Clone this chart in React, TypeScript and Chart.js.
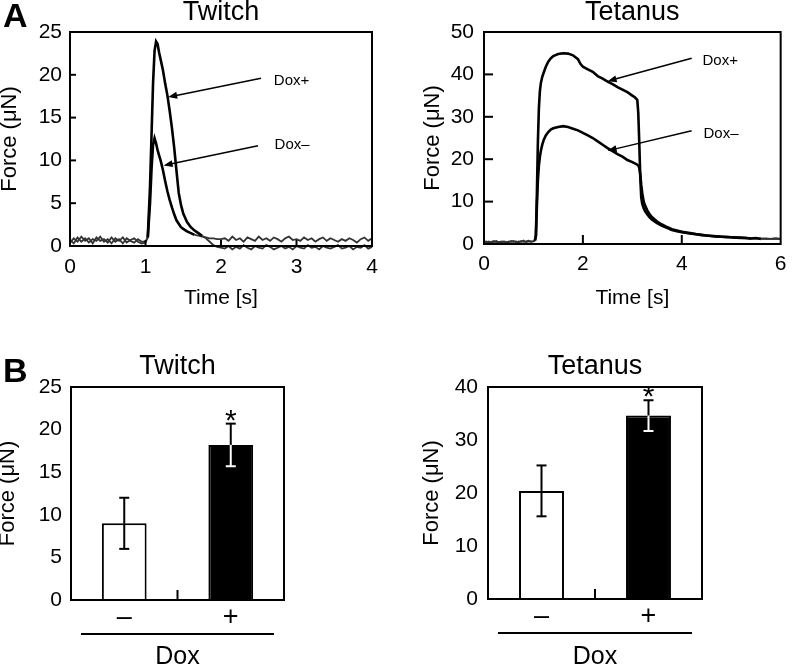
import React, { useEffect, useRef } from 'react';
import { Chart, registerables } from 'chart.js';

Chart.register(...registerables);

const FONT = "'Liberation Sans', Arial, Helvetica, sans-serif";
Chart.defaults.font.family = FONT;
Chart.defaults.color = '#000';

// ---------- Panel A: Twitch trace ----------
const twitchTime = [
  0, 0.05, 0.1, 0.15, 0.2, 0.25, 0.3, 0.35, 0.4, 0.45, 0.5, 0.55, 0.6, 0.65, 0.7, 0.75, 0.8, 0.85, 0.9, 0.95, 1.0,
  1.03, 1.06, 1.08, 1.1, 1.12, 1.14, 1.16, 1.18, 1.2, 1.23, 1.26, 1.29, 1.32, 1.35, 1.38, 1.41, 1.44, 1.47, 1.5,
  1.55, 1.6, 1.65, 1.7, 1.75, 1.8, 1.85, 1.9, 1.95, 2.0,
  2.05, 2.1, 2.15, 2.2, 2.25, 2.3, 2.35, 2.4, 2.45, 2.5, 2.55, 2.6, 2.65, 2.7, 2.75, 2.8, 2.85, 2.9, 2.95, 3.0,
  3.05, 3.1, 3.15, 3.2, 3.25, 3.3, 3.35, 3.4, 3.45, 3.5, 3.55, 3.6, 3.65, 3.7, 3.75, 3.8, 3.85, 3.9, 3.95, 4.0,
];
const twitchDoxPlus = [
  0.7, 0.3, 1.0, 0.5, 0.9, 0.4, 0.8, 0.6, 1.1, 0.5, 0.8, 0.3, 0.9, 0.6, 1.0, 0.4, 0.7, 0.9, 0.5, 0.3, 0.4,
  1.0, 7, 13, 19, 22.8, 23.9, 23.6, 22.6, 21.8, 20.6, 19.0, 17.6, 15.8, 13.8, 11.5, 8.8, 6.2, 4.8, 3.8,
  2.8, 2.2, 1.8, 1.5, 1.2, 0.9, 0.5, 0.1, -0.1, -0.2,
  -0.3, 0.0, -0.4, -0.1, -0.3, 0.1, -0.2, -0.4, 0.0, -0.2, -0.3, 0.1, -0.1, -0.4, -0.2, 0.0, -0.3, -0.1, -0.4, 0.0,
  -0.2, -0.3, 0.1, -0.2, -0.1, -0.4, 0.0, -0.2, -0.3, -0.1, 0.1, -0.3, -0.2, 0.0, -0.4, -0.1, -0.2, 0.1, -0.3, -0.1,
];
const twitchDoxMinus = [
  0.4, 0.9, 0.5, 1.1, 0.6, 0.9, 0.3, 1.0, 0.6, 0.8, 0.4, 1.0, 0.5, 0.8, 0.3, 0.9, 0.6, 0.4, 0.8, 0.5, 0.5,
  1.0, 5, 9, 11.8, 12.6, 12.0, 11.2, 10.6, 10.0, 8.9, 7.6, 6.4, 5.4, 4.5, 3.7, 3.0, 2.6, 2.2, 2.0,
  1.7, 1.5, 1.3, 1.2, 1.1, 1.0, 0.9, 0.9, 0.8, 0.8,
  0.9, 0.6, 1.1, 0.7, 0.9, 0.5, 1.0, 0.8, 0.6, 1.1, 0.7, 0.9, 0.6, 1.0, 0.8, 0.5, 0.9, 1.1, 0.7, 0.8,
  0.6, 1.0, 0.7, 0.9, 0.5, 0.8, 1.0, 0.6, 0.9, 0.7, 0.5, 0.8, 0.6, 0.9, 0.7, 0.4, 0.8, 1.0, 0.6, 0.9,
];

// ---------- Panel A: Tetanus trace ----------
const tetanusTime = [
  0, 0.05, 0.1, 0.15, 0.2, 0.25, 0.3, 0.35, 0.4, 0.45, 0.5, 0.55, 0.6, 0.65, 0.7, 0.75, 0.8, 0.85, 0.9, 0.95, 1.0,
  1.03, 1.05, 1.07, 1.09, 1.11, 1.13, 1.15, 1.18, 1.21, 1.25, 1.3, 1.35, 1.4, 1.5, 1.6, 1.7, 1.8, 1.9, 1.95, 2.0,
  2.1, 2.2, 2.3, 2.4, 2.5, 2.6, 2.7, 2.8, 2.9, 3.0, 3.05, 3.1, 3.12, 3.14, 3.16, 3.18, 3.2, 3.23, 3.26, 3.3,
  3.35, 3.4, 3.5, 3.6, 3.7, 3.8, 3.9, 4.0,
  4.1, 4.2, 4.3, 4.4, 4.5, 4.6, 4.7, 4.8, 4.9, 5.0, 5.1, 5.2, 5.3, 5.4, 5.5, 5.6, 5.7, 5.8, 5.9, 6.0,
];
const tetanusDoxPlus = [
  0.7, 0.4, 0.6, 0.3, 0.5, 0.7, 0.4, 0.6, 0.5, 0.3, 0.6, 0.5, 0.7, 0.4, 0.6, 0.5, 0.8, 0.4, 0.6, 0.5, 0.6,
  0.8, 2, 12, 24, 32, 36, 38, 39.5, 40.5, 41.8, 43.0, 43.8, 44.3, 44.8, 45.0, 44.9, 44.5, 43.6, 42.5, 41.8,
  41.2, 40.6, 39.6, 39.0, 38.3, 37.7, 37.0, 36.4, 35.8, 35.0, 34.6, 34.0, 31, 24, 16, 11, 9.5, 8.4, 7.7, 7.0,
  6.3, 5.7, 4.9, 4.3, 3.8, 3.3, 3.0, 2.8,
  2.6, 2.4, 2.3, 2.1, 2.0, 1.9, 1.8, 1.7, 1.7, 1.6, 1.5, 1.5, 1.4, 1.3, 1.4, 1.2, 1.3, 1.2, 1.3, 1.2,
];
const tetanusDoxMinus = [
  0.4, 0.6, 0.3, 0.5, 0.7, 0.4, 0.5, 0.3, 0.6, 0.5, 0.4, 0.7, 0.5, 0.6, 0.3, 0.7, 0.5, 0.6, 0.8, 0.6, 0.7,
  0.8, 2, 9, 15, 18.5, 20.5, 22, 23.5, 24.6, 25.6, 26.4, 27.0, 27.3, 27.6, 27.8, 27.6, 27.2, 26.8, 26.5, 26.2,
  25.6, 25.0, 24.2, 23.4, 22.6, 21.9, 21.2, 20.6, 19.8, 19.3, 19.0, 18.7, 18.5, 18.0, 16.5, 14, 12, 10, 9, 8.0,
  7.0, 6.3, 5.3, 4.6, 4.0, 3.5, 3.2, 2.9,
  2.7, 2.5, 2.3, 2.2, 2.0, 1.9, 1.8, 1.7, 1.6, 1.6, 1.5, 1.4, 1.4, 1.3, 1.3, 1.3, 1.2, 1.2, 1.3, 1.2,
];

// ---------- Panel B: bar summaries ----------
const barLabels = ['–', '+'];
const twitchBarMean = [9.0, 18.2];
const twitchBarErr = [3.0, 2.5];
const tetanusBarMean = [20.4, 34.6];
const tetanusBarErr = [4.8, 2.9];
const barFill = ['#ffffff', '#000000'];

type Ann = { label: string; tail: [number, number]; tip: [number, number]; text: [number, number] };

const twitchAnn: Ann[] = [
  { label: 'Dox+', tail: [2.53, 19.6], tip: [1.3, 17.4], text: [2.7, 19.4] },
  { label: 'Dox–', tail: [2.49, 11.7], tip: [1.24, 9.4], text: [2.71, 11.9] },
];
const tetanusAnn: Ann[] = [
  { label: 'Dox+', tail: [4.2, 43.8], tip: [2.5, 38.4], text: [4.42, 43.4] },
  { label: 'Dox–', tail: [4.2, 26.7], tip: [2.5, 22.0], text: [4.44, 26.3] },
];

function line(ctx: CanvasRenderingContext2D, x1: number, y1: number, x2: number, y2: number) {
  ctx.beginPath();
  ctx.moveTo(x1, y1);
  ctx.lineTo(x2, y2);
  ctx.stroke();
}

function drawArrow(ctx: CanvasRenderingContext2D, x1: number, y1: number, x2: number, y2: number) {
  const ang = Math.atan2(y2 - y1, x2 - x1);
  const L = 9, W = 3.5;
  const c = Math.cos(ang), s = Math.sin(ang);
  ctx.lineWidth = 1.5;
  line(ctx, x1, y1, x2 - (L - 2) * c, y2 - (L - 2) * s);
  ctx.beginPath();
  ctx.moveTo(x2, y2);
  ctx.lineTo(x2 - L * c + W * s, y2 - L * s - W * c);
  ctx.lineTo(x2 - L * c - W * s, y2 - L * s + W * c);
  ctx.closePath();
  ctx.fill();
}

const isBase = (c: any) => Math.abs(c.p0.parsed.y) < 1.4 && Math.abs(c.p1.parsed.y) < 1.4;

interface TraceParams {
  title: string;
  time: number[];
  plus: number[];
  minus: number[];
  xMax: number;
  xStep: number;
  yMax: number;
  yStep: number;
  padLeft: number;
  padRight: number;
  yWidth: number;
  xHeight: number;
  yTitleLH: number;
  yTickPad: number;
  xTickPad: number;
  tickLen: number;
  ann: Ann[];
}

function traceConfig(p: TraceParams): any {
  const ds = (label: string, vals: number[]) => ({
    label,
    data: p.time.map((t, i) => ({ x: t, y: vals[i] })),
    borderColor: '#000',
    borderWidth: 2.6,
    pointRadius: 0,
    tension: 0,
    clip: false,
    segment: {
      borderColor: (c: any) => (isBase(c) ? '#333' : '#000'),
      borderWidth: (c: any) => (isBase(c) ? 1.8 : 2.6),
    },
  });
  return {
    type: 'line',
    data: { datasets: [ds('Dox+', p.plus), ds('Dox–', p.minus)] },
    options: {
      animation: false,
      responsive: false,
      devicePixelRatio: 1,
      events: [],
      layout: { padding: { left: p.padLeft, right: p.padRight, top: 0, bottom: 0 } },
      plugins: {
        legend: { display: false },
        tooltip: { enabled: false },
        title: {
          display: true,
          text: p.title,
          fullSize: false,
          color: '#000',
          font: { size: 27, weight: 'normal', lineHeight: 0.8 },
          padding: { top: 1.6, bottom: 8.8 },
        },
      },
      scales: {
        x: {
          type: 'linear',
          min: 0,
          max: p.xMax,
          ticks: { stepSize: p.xStep, padding: p.xTickPad, color: '#000', font: { size: 21, lineHeight: 1 } },
          grid: { display: false, drawTicks: false },
          border: { display: false },
          title: {
            display: true,
            text: 'Time [s]',
            color: '#000',
            font: { size: 21, lineHeight: 1 },
            padding: { top: 0, bottom: 11.5 },
          },
          afterFit: (s: any) => { s.height = p.xHeight; },
        },
        y: {
          min: 0,
          max: p.yMax,
          ticks: { stepSize: p.yStep, padding: p.yTickPad, color: '#000', font: { size: 21, lineHeight: 1 } },
          grid: { display: false, drawTicks: false },
          border: { display: false },
          title: {
            display: true,
            text: 'Force (μN)',
            color: '#000',
            font: { size: 22, lineHeight: p.yTitleLH },
            padding: { top: 0, bottom: 0 },
          },
          afterFit: (s: any) => { s.width = p.yWidth; },
        },
      },
    },
    plugins: [
      {
        id: 'traceDecor',
        afterDraw(chart: any) {
          const { ctx, chartArea: a, scales } = chart;
          const x = scales.x, y = scales.y;
          ctx.save();
          ctx.strokeStyle = '#000';
          ctx.fillStyle = '#000';
          ctx.lineWidth = 2;
          ctx.strokeRect(a.left, a.top, a.right - a.left, a.bottom - a.top);
          x.ticks.forEach((t: any) => {
            if (t.value > x.min && t.value < x.max) {
              const px = x.getPixelForValue(t.value);
              line(ctx, px, a.bottom, px, a.bottom - p.tickLen);
            }
          });
          y.ticks.forEach((t: any) => {
            if (t.value > y.min && t.value < y.max) {
              const py = y.getPixelForValue(t.value);
              line(ctx, a.left, py, a.left + p.tickLen, py);
            }
          });
          ctx.font = `15px ${FONT}`;
          ctx.textAlign = 'left';
          ctx.textBaseline = 'middle';
          p.ann.forEach((an) => {
            drawArrow(
              ctx,
              x.getPixelForValue(an.tail[0]), y.getPixelForValue(an.tail[1]),
              x.getPixelForValue(an.tip[0]), y.getPixelForValue(an.tip[1])
            );
            ctx.fillText(an.label, x.getPixelForValue(an.text[0]), y.getPixelForValue(an.text[1]) + 1);
          });
          ctx.restore();
        },
      },
    ],
  };
}

interface BarParams {
  title: string;
  mean: number[];
  err: number[];
  yMax: number;
  yStep: number;
  padLeft: number;
  padRight: number;
  yWidth: number;
  xHeight: number;
  yTitleLH: number;
  yTickPad: number;
}

function barConfig(p: BarParams): any {
  return {
    type: 'bar',
    data: {
      labels: barLabels,
      datasets: [
        {
          label: 'Force',
          data: p.mean,
          backgroundColor: barFill,
          borderColor: '#000',
          borderWidth: 2,
          barPercentage: 0.42,
          categoryPercentage: 1,
        },
      ],
    },
    options: {
      animation: false,
      responsive: false,
      devicePixelRatio: 1,
      events: [],
      layout: { padding: { left: p.padLeft, right: p.padRight, top: 0, bottom: 0 } },
      plugins: {
        legend: { display: false },
        tooltip: { enabled: false },
        title: {
          display: true,
          text: p.title,
          fullSize: false,
          color: '#000',
          font: { size: 27, weight: 'normal', lineHeight: 0.8 },
          padding: { top: 26, bottom: 9.4 },
        },
      },
      scales: {
        x: {
          ticks: { padding: 4, color: '#000', font: { size: 27, lineHeight: 1 } },
          grid: { display: false, drawTicks: false },
          border: { display: false },
          title: {
            display: true,
            text: 'Dox',
            color: '#000',
            font: { size: 25, lineHeight: 1 },
            padding: { top: 0, bottom: 6 },
          },
          afterFit: (s: any) => { s.height = p.xHeight; },
        },
        y: {
          min: 0,
          max: p.yMax,
          ticks: { stepSize: p.yStep, padding: p.yTickPad, color: '#000', font: { size: 21, lineHeight: 1 } },
          grid: { display: false, drawTicks: false },
          border: { display: false },
          title: {
            display: true,
            text: 'Force (μN)',
            color: '#000',
            font: { size: 22, lineHeight: p.yTitleLH },
            padding: { top: 0, bottom: 0 },
          },
          afterFit: (s: any) => { s.width = p.yWidth; },
        },
      },
    },
    plugins: [
      {
        id: 'barDecor',
        afterDatasetsDraw(chart: any) {
          const { ctx, chartArea: a, scales } = chart;
          const x = scales.x, y = scales.y;
          const meta = chart.getDatasetMeta(0);
          ctx.save();
          ctx.strokeStyle = '#000';
          ctx.fillStyle = '#000';
          ctx.lineWidth = 2;
          ctx.strokeRect(a.left, a.top, a.right - a.left, a.bottom - a.top);
          const mid = x.getPixelForValue(0.5);
          line(ctx, mid, a.bottom, mid, a.bottom - 10);
          meta.data.forEach((el: any, i: number) => {
            const cx = el.x;
            const hi = y.getPixelForValue(p.mean[i] + p.err[i]);
            const lo = y.getPixelForValue(p.mean[i] - p.err[i]);
            const top = el.y;
            ctx.strokeStyle = '#000';
            line(ctx, cx, hi, cx, top);
            line(ctx, cx - 5, hi, cx + 5, hi);
            ctx.strokeStyle = barFill[i] === '#000000' ? '#fff' : '#000';
            line(ctx, cx, top, cx, lo);
            line(ctx, cx - 5, lo, cx + 5, lo);
          });
          // significance mark above the second bar
          const el1 = meta.data[1];
          const hi1 = y.getPixelForValue(p.mean[1] + p.err[1]);
          ctx.fillStyle = '#000';
          ctx.font = `30px ${FONT}`;
          ctx.textAlign = 'center';
          ctx.textBaseline = 'alphabetic';
          ctx.fillText('*', el1.x, hi1 + 6);
          // grouping line for "Dox"
          ctx.strokeStyle = '#000';
          ctx.lineWidth = 2;
          line(ctx, a.left + 10, a.bottom + 34, a.right - 10, a.bottom + 34);
          ctx.restore();
        },
      },
    ],
  };
}

function ChartBox(props: { make: () => any; left: number; top: number; width: number; height: number }) {
  const ref = useRef<HTMLCanvasElement | null>(null);
  useEffect(() => {
    if (!ref.current) return;
    const chart = new Chart(ref.current, props.make());
    return () => chart.destroy();
  }, []);
  return (
    <canvas
      ref={ref}
      width={props.width}
      height={props.height}
      style={{ position: 'absolute', left: props.left, top: props.top, width: props.width, height: props.height }}
    />
  );
}

const panelLetter: React.CSSProperties = {
  position: 'absolute',
  fontFamily: FONT,
  fontWeight: 'bold',
  fontSize: 34,
  lineHeight: '34px',
  color: '#000',
};

export default function App() {
  return (
    <div
      style={{
        position: 'absolute',
        left: 0,
        top: 0,
        width: 792,
        height: 666,
        overflow: 'hidden',
        background: '#fff',
      }}
    >
      <ChartBox
        left={0}
        top={0}
        width={396}
        height={320}
        make={() =>
          traceConfig({
            title: 'Twitch', time: twitchTime, plus: twitchDoxPlus, minus: twitchDoxMinus,
            xMax: 4, xStep: 1, yMax: 25, yStep: 5,
            padLeft: 0, padRight: 24, yWidth: 70, xHeight: 74, yTitleLH: 0.86,
            yTickPad: 8, xTickPad: 10.5, tickLen: 6, ann: twitchAnn,
          })
        }
      />
      <ChartBox
        left={396}
        top={0}
        width={400}
        height={320}
        make={() =>
          traceConfig({
            title: 'Tetanus', time: tetanusTime, plus: tetanusDoxPlus, minus: tetanusDoxMinus,
            xMax: 6, xStep: 2, yMax: 50, yStep: 10,
            padLeft: 27, padRight: 9, yWidth: 61, xHeight: 76, yTitleLH: 0.91,
            yTickPad: 10, xTickPad: 9.5, tickLen: 9, ann: tetanusAnn,
          })
        }
      />
      <ChartBox
        left={0}
        top={330}
        width={396}
        height={346}
        make={() =>
          barConfig({
            title: 'Twitch', mean: twitchBarMean, err: twitchBarErr, yMax: 25, yStep: 5,
            padLeft: 0, padRight: 112, yWidth: 71, xHeight: 76, yTitleLH: 0.73, yTickPad: 9,
          })
        }
      />
      <ChartBox
        left={396}
        top={330}
        width={396}
        height={346}
        make={() =>
          barConfig({
            title: 'Tetanus', mean: tetanusBarMean, err: tetanusBarErr, yMax: 40, yStep: 10,
            padLeft: 26, padRight: 90, yWidth: 66, xHeight: 77, yTitleLH: 0.91, yTickPad: 10,
          })
        }
      />
      <div style={{ ...panelLetter, left: 3, top: -2 }}>A</div>
      <div style={{ ...panelLetter, left: 3, top: 353 }}>B</div>
    </div>
  );
}
